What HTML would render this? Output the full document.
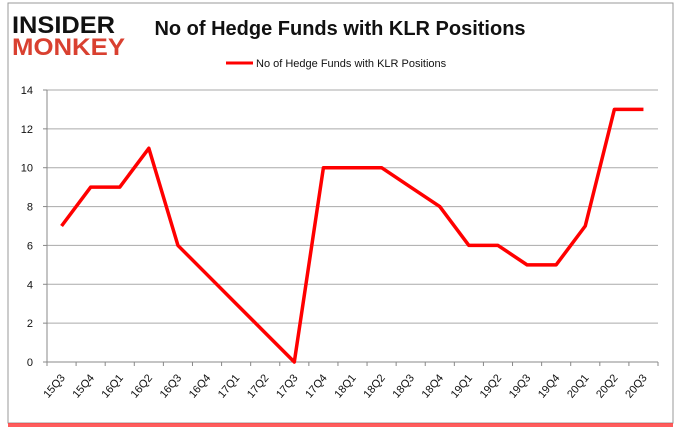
<!DOCTYPE html>
<html><head><meta charset="utf-8"><style>
body{margin:0;width:680px;height:433px;background:#fff;overflow:hidden;font-family:"Liberation Sans",sans-serif}
</style></head><body>
<svg width="680" height="433">
<rect x="8" y="3" width="665" height="420" fill="#fff" stroke="#999"/>
<rect x="8" y="423" width="665" height="4" fill="#f33" opacity="0.8"/>
<g>
<text x="12" y="33" font-size="24" font-weight="900" fill="#111" textLength="103" lengthAdjust="spacingAndGlyphs">INSIDER</text>
<text x="12" y="55" font-size="24" font-weight="900" fill="#d94030" textLength="113" lengthAdjust="spacingAndGlyphs">MONKEY</text>
</g>
<text x="340" y="35" text-anchor="middle" font-size="20" font-weight="bold" fill="#111">No of Hedge Funds with KLR Positions</text>
<g>
<line x1="226" y1="63" x2="253" y2="63" stroke="red" stroke-width="3"/>
<text x="256" y="67" font-size="11" fill="#111">No of Hedge Funds with KLR Positions</text>
</g>
<g id="grid"></g><g id="axes"></g>
<polyline id="line" fill="none" stroke="red" stroke-width="3.5" stroke-linejoin="round"/>
</svg>
<script>
const categories=["15Q3","15Q4","16Q1","16Q2","16Q3","16Q4","17Q1","17Q2","17Q3","17Q4","18Q1","18Q2","18Q3","18Q4","19Q1","19Q2","19Q3","19Q4","20Q1","20Q2","20Q3"];
const values=[7,9,9,11,6,4.5,3,1.5,0,10,10,10,9,8,6,6,5,5,7,13,13];
const yTicks=[0,2,4,6,8,10,12,14];
const X0=47,X1=658,Y0=362,Y1=90,ns="http://www.w3.org/2000/svg";
const bw=(X1-X0)/categories.length;
const xs=i=>X0+bw*(i+0.5), ys=v=>Y0-(v/14)*(Y0-Y1);
const g=document.getElementById('grid'),a=document.getElementById('axes');
function mk(t,at,p){const e=document.createElementNS(ns,t);for(const k in at)e.setAttribute(k,at[k]);p.appendChild(e);return e;}
yTicks.forEach(v=>{
 const l=mk('line',{x1:X0,x2:X1,y1:ys(v),y2:ys(v),stroke:v?'#aaa':'#888'},g);
 
 
 mk('line',{x1:X0-4,x2:X0,y1:ys(v),y2:ys(v),stroke:'#888'},a);
 const t=mk('text',{x:X0-14,y:ys(v)+4,'text-anchor':'end','font-size':11,fill:'#111'},a);
 t.textContent=v;
 
 
});
mk('line',{x1:X0,x2:X0,y1:Y1,y2:Y0,stroke:'#888'},a);
for(let i=0;i<=categories.length;i++)mk('line',{x1:X0+bw*i,x2:X0+bw*i,y1:Y0,y2:Y0+4,stroke:'#888'},a);
categories.forEach((c,i)=>{
 const x=xs(i)+4,y=Y0+16;
 const t=mk('text',{x:x,y:y,'text-anchor':'end','font-size':11,fill:'#111',transform:`rotate(-50 ${x} ${y})`},a);
 t.textContent=c;
 
 
});
document.getElementById('line').setAttribute('points',values.map((v,i)=>xs(i)+','+ys(v)).join(' '));
</script>
</body></html>
